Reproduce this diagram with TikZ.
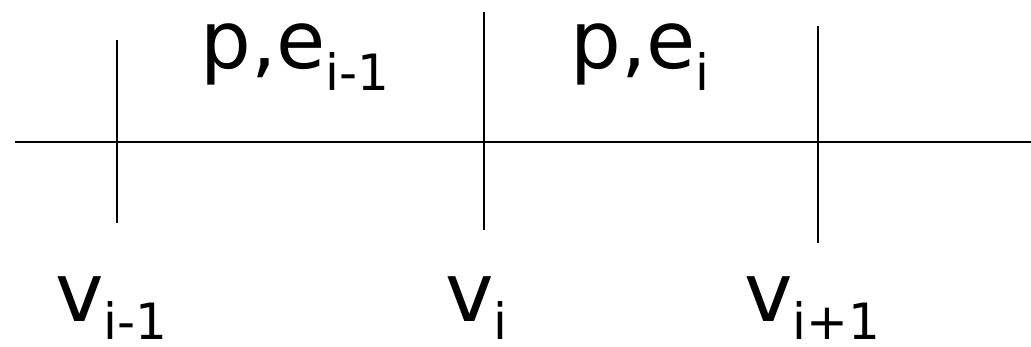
\documentclass[tikz,border=0pt]{standalone}
\usepackage{fontspec}
\setmainfont{DejaVu Sans}
\newcommand{\lowsub}[3]{\raisebox{-#1pt}{\fontsize{#2}{#2}\selectfont #3}}

\begin{document}
\begin{tikzpicture}[x=1pt,y=-1pt,line cap=butt]
\useasboundingbox (0,0) rectangle (1031,346);
\coordinate (l) at (15,142);
\coordinate (r) at (1031,142);
\coordinate (A1) at (117,40);
\coordinate (A2) at (117,223);
\coordinate (B1) at (483.5,12);
\coordinate (B2) at (483.5,230);
\coordinate (C1) at (818,26);
\coordinate (C2) at (818,243);
\draw[line width=2.6pt] (l) -- (r);
\draw[line width=2pt] (A1) -- (A2);
\draw[line width=2pt] (B1) -- (B2);
\draw[line width=2pt] (C1) -- (C2);
\node[anchor=base west,inner sep=0pt,font=\fontsize{80}{86}\selectfont] (eA) at (200,68) {p,e\lowsub{22}{50}{i-1}};
\node[anchor=base west,inner sep=0pt,font=\fontsize{80}{86}\selectfont] (eB) at (570,68) {p,e\lowsub{22}{50}{i}};
\node[anchor=base west,inner sep=0pt,font=\fontsize{82}{88}\selectfont] (vA) at (55,321) {v\lowsub{18}{50}{i-1}};
\node[anchor=base west,inner sep=0pt,font=\fontsize{82}{88}\selectfont] (vB) at (445,321) {v\lowsub{18}{50}{i}};
\node[anchor=base west,inner sep=0pt,font=\fontsize{82}{88}\selectfont] (vC) at (744,321) {v\lowsub{18}{50}{i+1}};
\end{tikzpicture}
\end{document}
